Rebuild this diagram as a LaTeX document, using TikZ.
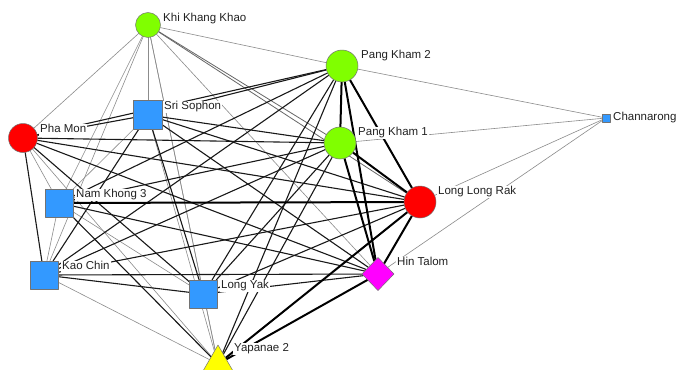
\documentclass[tikz,border=0pt]{standalone}
\usepackage{fontspec}
\setmainfont{Liberation Sans}
\usepackage{xcolor}
\usetikzlibrary{shapes.geometric,backgrounds}
\definecolor{vgreen}{HTML}{80FF00}
\definecolor{vred}{HTML}{FF0000}
\definecolor{vblue}{HTML}{3399FF}
\definecolor{vpink}{HTML}{FF00FF}
\definecolor{vyellow}{HTML}{FFFF00}
\definecolor{tagink}{HTML}{222222}
\tikzset{
    every picture/.style={line cap=round,line join=round},
    actor/.style={draw=black!55,line width=0.5pt,inner sep=0pt,outer sep=0pt},
    roundactor/.style={actor,circle},
    squareactor/.style={actor,rectangle},
    tag/.style={anchor=west,fill=white,inner xsep=1pt,inner ysep=0.5pt,
      text height=8pt,text depth=2.5pt,text=tagink,
      font=\fontsize{11.5pt}{13pt}\selectfont},
    weaktie/.style={draw=black!45,line width=0.6pt},
    greytie/.style={draw=black!60,line width=0.8pt},
    midtie/.style={draw=black!90,line width=1.1pt},
    strongtie/.style={draw=black,line width=2pt}
}
\begin{document}
\begin{tikzpicture}[x=1pt,y=-1pt]
  \useasboundingbox (0,0) rectangle (679,369);
  % villages
  \node[roundactor,fill=vgreen,minimum size=25pt] (kkk) at (148,25) {};
  \node[roundactor,fill=vgreen,minimum size=32pt] (pk2) at (342,66) {};
  \node[squareactor,fill=vblue,minimum size=29pt] (ss) at (148,115) {};
  \node[roundactor,fill=vred,minimum size=29pt] (pm) at (23,138) {};
  \node[roundactor,fill=vgreen,minimum size=32pt] (pk1) at (340,143) {};
  \node[squareactor,fill=vblue,minimum size=8pt] (ch) at (606,118) {};
  \node[roundactor,fill=vred,minimum size=32pt] (llr) at (420,202) {};
  \node[actor,diamond,fill=vpink,minimum width=32pt,minimum height=33pt] (ht) at (378,274) {};
  \node[squareactor,fill=vblue,minimum size=28pt] (nk) at (59,203) {};
  \node[squareactor,fill=vblue,minimum size=28pt] (kc) at (44,275) {};
  \node[squareactor,fill=vblue,minimum size=28pt] (ly) at (203.5,294) {};
  \node[actor,regular polygon,regular polygon sides=3,fill=vyellow,minimum size=38pt] (yp) at (218,364) {};
  % names
  \node[tag] (kkk-t) at (162,19) {Khi Khang Khao};
  \node[tag] (pk2-t) at (360,56) {Pang Kham 2};
  \node[tag] (ss-t) at (163,107) {Sri Sophon};
  \node[tag] (pm-t) at (39,130) {Pha Mon};
  \node[tag] (pk1-t) at (357,133) {Pang Kham 1};
  \node[tag] (ch-t) at (612,118) {Channarong};
  \node[tag] (llr-t) at (437,192) {Long Long Rak};
  \node[tag] (ht-t) at (396,263) {Hin Talom};
  \node[tag] (nk-t) at (75,195) {Nam Khong 3};
  \node[tag] (kc-t) at (61,267) {Kao Chin};
  \node[tag] (ly-t) at (220,286) {Long Yak};
  \node[tag] (yp-t) at (233,349) {Yapanae 2};
  % ties
  \begin{scope}[on background layer]
    \fill[white] (0,0) rectangle (679,369);
    \foreach \a/\b in {kkk/pm,kkk/ss,kkk/nk,kkk/kc,kkk/ly,kkk/yp,kkk/ht,kkk/pk2,
        pk2/ch,pk1/ch,llr/ch,ht/ch,pm/nk,pm/yp,ss/yp,ss/nk,nk/ly,nk/kc,kc/yp,ly/yp}
      \draw[weaktie] (\a) -- (\b);
    \foreach \a/\b in {kkk/pk1,kkk/llr}
      \draw[greytie] (\a) -- (\b);
    \foreach \a/\b in {pm/ss,pm/pk1,pm/llr,pm/ht,pm/ly,pm/kc,pm/pk2,
        ss/pk2,ss/pk1,ss/llr,ss/ht,ss/ly,ss/kc,nk/ht,nk/yp,nk/pk2,nk/pk1,
        kc/ht,kc/ly,kc/llr,kc/pk1,kc/pk2,ly/ht,ly/llr,ly/pk1,ly/pk2,yp/pk1,yp/pk2}
      \draw[midtie] (\a) -- (\b);
    \foreach \a/\b in {nk/llr,yp/llr,yp/ht,ht/llr,ht/pk1,ht/pk2,pk1/llr,pk1/pk2,pk2/llr}
      \draw[strongtie] (\a) -- (\b);
  \end{scope}
\end{tikzpicture}
\end{document}
